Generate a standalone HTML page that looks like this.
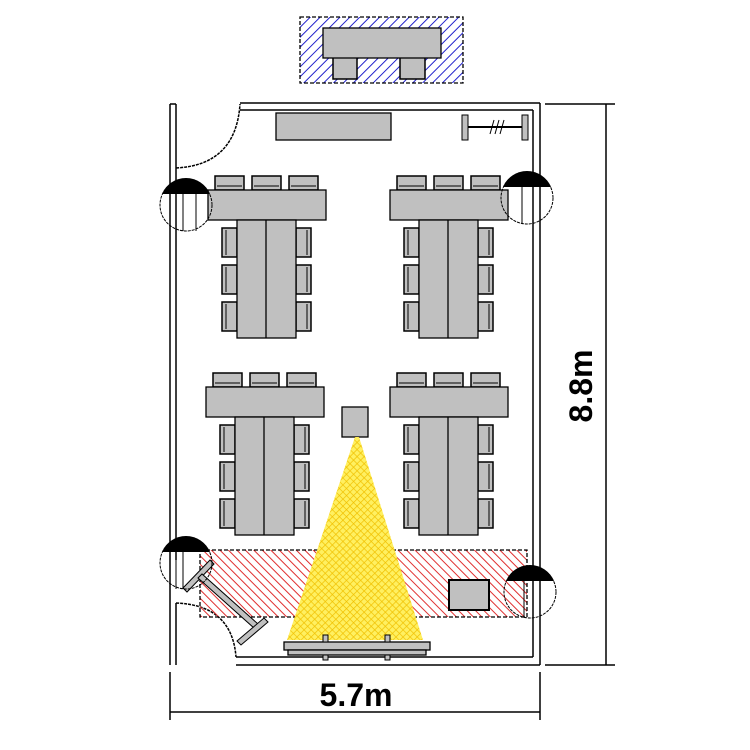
<!DOCTYPE html>
<html><head><meta charset="utf-8"><style>html,body{margin:0;padding:0;background:#fff}svg{display:block}</style></head>
<body>
<svg width="750" height="750" viewBox="0 0 750 750" xmlns="http://www.w3.org/2000/svg">
<defs>
<pattern id="blue" width="7" height="7" patternUnits="userSpaceOnUse" patternTransform="rotate(45)"><line x1="0" y1="0" x2="0" y2="7" stroke="#2222cc" stroke-width="2"/></pattern>
<pattern id="red" width="6" height="6" patternUnits="userSpaceOnUse" patternTransform="rotate(-45)"><line x1="0" y1="0" x2="0" y2="6" stroke="#e03030" stroke-width="2"/></pattern>
<pattern id="yel" width="5" height="5" patternUnits="userSpaceOnUse" patternTransform="rotate(45)"><rect width="5" height="5" fill="#fff060"/><line x1="0" y1="0" x2="0" y2="5" stroke="#f0c000" stroke-width="1.4"/><line x1="0" y1="0" x2="5" y2="0" stroke="#f0c000" stroke-width="1.4"/></pattern>
<g id="chairT"><rect x="0" y="0" width="29" height="14" fill="#c0c0c0" stroke="#000" stroke-width="1.5"/><line x1="2" y1="10" x2="27" y2="10" stroke="#000"/></g>
<g id="chairL"><rect x="0" y="0" width="15" height="29" fill="#c0c0c0" stroke="#000" stroke-width="1.5"/><line x1="4" y1="2" x2="4" y2="27" stroke="#000"/></g>
<g id="chairR"><rect x="0" y="0" width="15" height="29" fill="#c0c0c0" stroke="#000" stroke-width="1.5"/><line x1="11" y1="2" x2="11" y2="27" stroke="#000"/></g>
<g id="grp">
<use href="#chairT" x="215" y="176"/><use href="#chairT" x="252" y="176"/><use href="#chairT" x="289" y="176"/>
<rect x="208" y="190" width="118" height="30" fill="#c0c0c0" stroke="#000" stroke-width="1.3"/>
<use href="#chairL" x="222" y="228"/><use href="#chairL" x="222" y="265"/><use href="#chairL" x="222" y="302"/>
<use href="#chairR" x="296" y="228"/><use href="#chairR" x="296" y="265"/><use href="#chairR" x="296" y="302"/>
<rect x="237" y="220" width="59" height="118" fill="#c0c0c0" stroke="#000" stroke-width="1.3"/>
<line x1="266" y1="220" x2="266" y2="338" stroke="#000" stroke-width="1.3"/>
</g>
<g id="col"><circle cx="0" cy="0" r="26" fill="none" stroke="#000" stroke-dasharray="3,1"/>
<path d="M-24,-11 A26,26 0 0 1 24,-11 Z" fill="#000"/></g>
</defs>

<rect x="300" y="17" width="163" height="66" fill="url(#blue)" stroke="#000" stroke-width="1.3" stroke-dasharray="4,2"/>
<rect x="333" y="56" width="24" height="23" fill="#c0c0c0" stroke="#000" stroke-width="1.5"/>
<rect x="400" y="56" width="25" height="23" fill="#c0c0c0" stroke="#000" stroke-width="1.5"/>
<rect x="323" y="28" width="118" height="30" fill="#c0c0c0" stroke="#000" stroke-width="1.3"/>

<g fill="none" stroke="#000" stroke-width="1.5">
<line x1="170" y1="104" x2="170" y2="665"/><line x1="176" y1="104" x2="176" y2="168"/>
<line x1="170" y1="104" x2="176" y2="104"/>
<line x1="176" y1="168" x2="176" y2="560"/>
<line x1="176" y1="603" x2="176" y2="665"/>
<line x1="240" y1="103" x2="540" y2="103"/><line x1="240" y1="110" x2="533" y2="110"/>
<line x1="540" y1="103" x2="540" y2="665"/><line x1="533" y1="110" x2="533" y2="657"/>
<line x1="236" y1="657" x2="533" y2="657"/><line x1="236" y1="665" x2="540" y2="665"/>
<path d="M176,168 Q236,165 240,104" stroke-dasharray="3,1"/>
<path d="M176,603 Q232,605 236,657" stroke-dasharray="3,1"/>
</g>

<rect x="276" y="113" width="115" height="27" fill="#c0c0c0" stroke="#000" stroke-width="1.3"/>
<rect x="462" y="115" width="6" height="25" fill="#c0c0c0" stroke="#000"/>
<rect x="522" y="115" width="6" height="25" fill="#c0c0c0" stroke="#000"/>
<line x1="468" y1="127" x2="522" y2="127" stroke="#000" stroke-width="2"/>
<g stroke="#000"><line x1="490" y1="134" x2="494" y2="120"/><line x1="495" y1="134" x2="499" y2="120"/><line x1="500" y1="134" x2="504" y2="120"/></g>

<use href="#grp"/>
<use href="#grp" x="182"/>
<use href="#grp" x="-2" y="197"/>
<use href="#grp" x="182" y="197"/>

<rect x="342" y="407" width="26" height="30" fill="#c0c0c0" stroke="#000" stroke-width="1.3"/>

<rect x="200" y="550" width="327" height="67" fill="url(#red)" stroke="#000" stroke-width="1.3" stroke-dasharray="4,2"/>
<polygon points="355,437 359,437 423,640 287,640" fill="url(#yel)"/>
<rect x="449" y="580" width="40" height="30" fill="#c0c0c0" stroke="#000" stroke-width="2"/>

<rect x="284" y="642" width="146" height="8" fill="#c0c0c0" stroke="#000" stroke-width="1.3"/>
<rect x="288" y="650" width="138" height="5" fill="#c0c0c0" stroke="#000" stroke-width="1.3"/>
<rect x="323" y="635" width="5" height="7" fill="#c0c0c0" stroke="#000"/>
<rect x="385" y="635" width="5" height="7" fill="#c0c0c0" stroke="#000"/>
<rect x="323" y="655" width="5" height="5" fill="#c0c0c0" stroke="#000"/>
<rect x="385" y="655" width="5" height="5" fill="#c0c0c0" stroke="#000"/>

<g stroke="#000" fill="#c0c0c0">
<polygon points="183,588 210,560 214,564 187,592"/>
<polygon points="198,578 202,574 258,624 254,628"/>
<polygon points="237,641 264,618 268,622 241,645"/>
</g>

<g><use href="#col" x="186" y="205"/><g stroke="#000"><line x1="170" y1="194" x2="170" y2="231"/><line x1="176" y1="194" x2="176" y2="231"/><line x1="183" y1="194" x2="183" y2="231"/><line x1="196" y1="194" x2="196" y2="231"/></g></g>
<g><use href="#col" x="527" y="198"/><g stroke="#000"><line x1="533" y1="187" x2="533" y2="224"/><line x1="540" y1="187" x2="540" y2="224"/><line x1="522" y1="187" x2="522" y2="224"/></g></g>
<g><use href="#col" x="186" y="563"/><g stroke="#000"><line x1="170" y1="552" x2="170" y2="589"/><line x1="176" y1="552" x2="176" y2="589"/><line x1="183" y1="552" x2="183" y2="589"/></g></g>
<g><use href="#col" x="530" y="592"/><g stroke="#000"><line x1="533" y1="581" x2="533" y2="617"/><line x1="540" y1="581" x2="540" y2="617"/><line x1="524" y1="581" x2="524" y2="617"/></g></g>

<g stroke="#000" stroke-width="1.5">
<line x1="606" y1="104" x2="606" y2="665"/>
<line x1="545" y1="104" x2="615" y2="104"/><line x1="545" y1="665" x2="615" y2="665"/>
<line x1="170" y1="712" x2="540" y2="712"/>
<line x1="170" y1="672" x2="170" y2="720"/><line x1="540" y1="672" x2="540" y2="720"/>
</g>
<text x="356" y="706" font-family="Liberation Sans, sans-serif" font-size="32" font-weight="bold" text-anchor="middle">5.7m</text>
<text transform="translate(592,386) rotate(-90)" font-family="Liberation Sans, sans-serif" font-size="32" font-weight="bold" text-anchor="middle">8.8m</text>
</svg>
</body></html>
